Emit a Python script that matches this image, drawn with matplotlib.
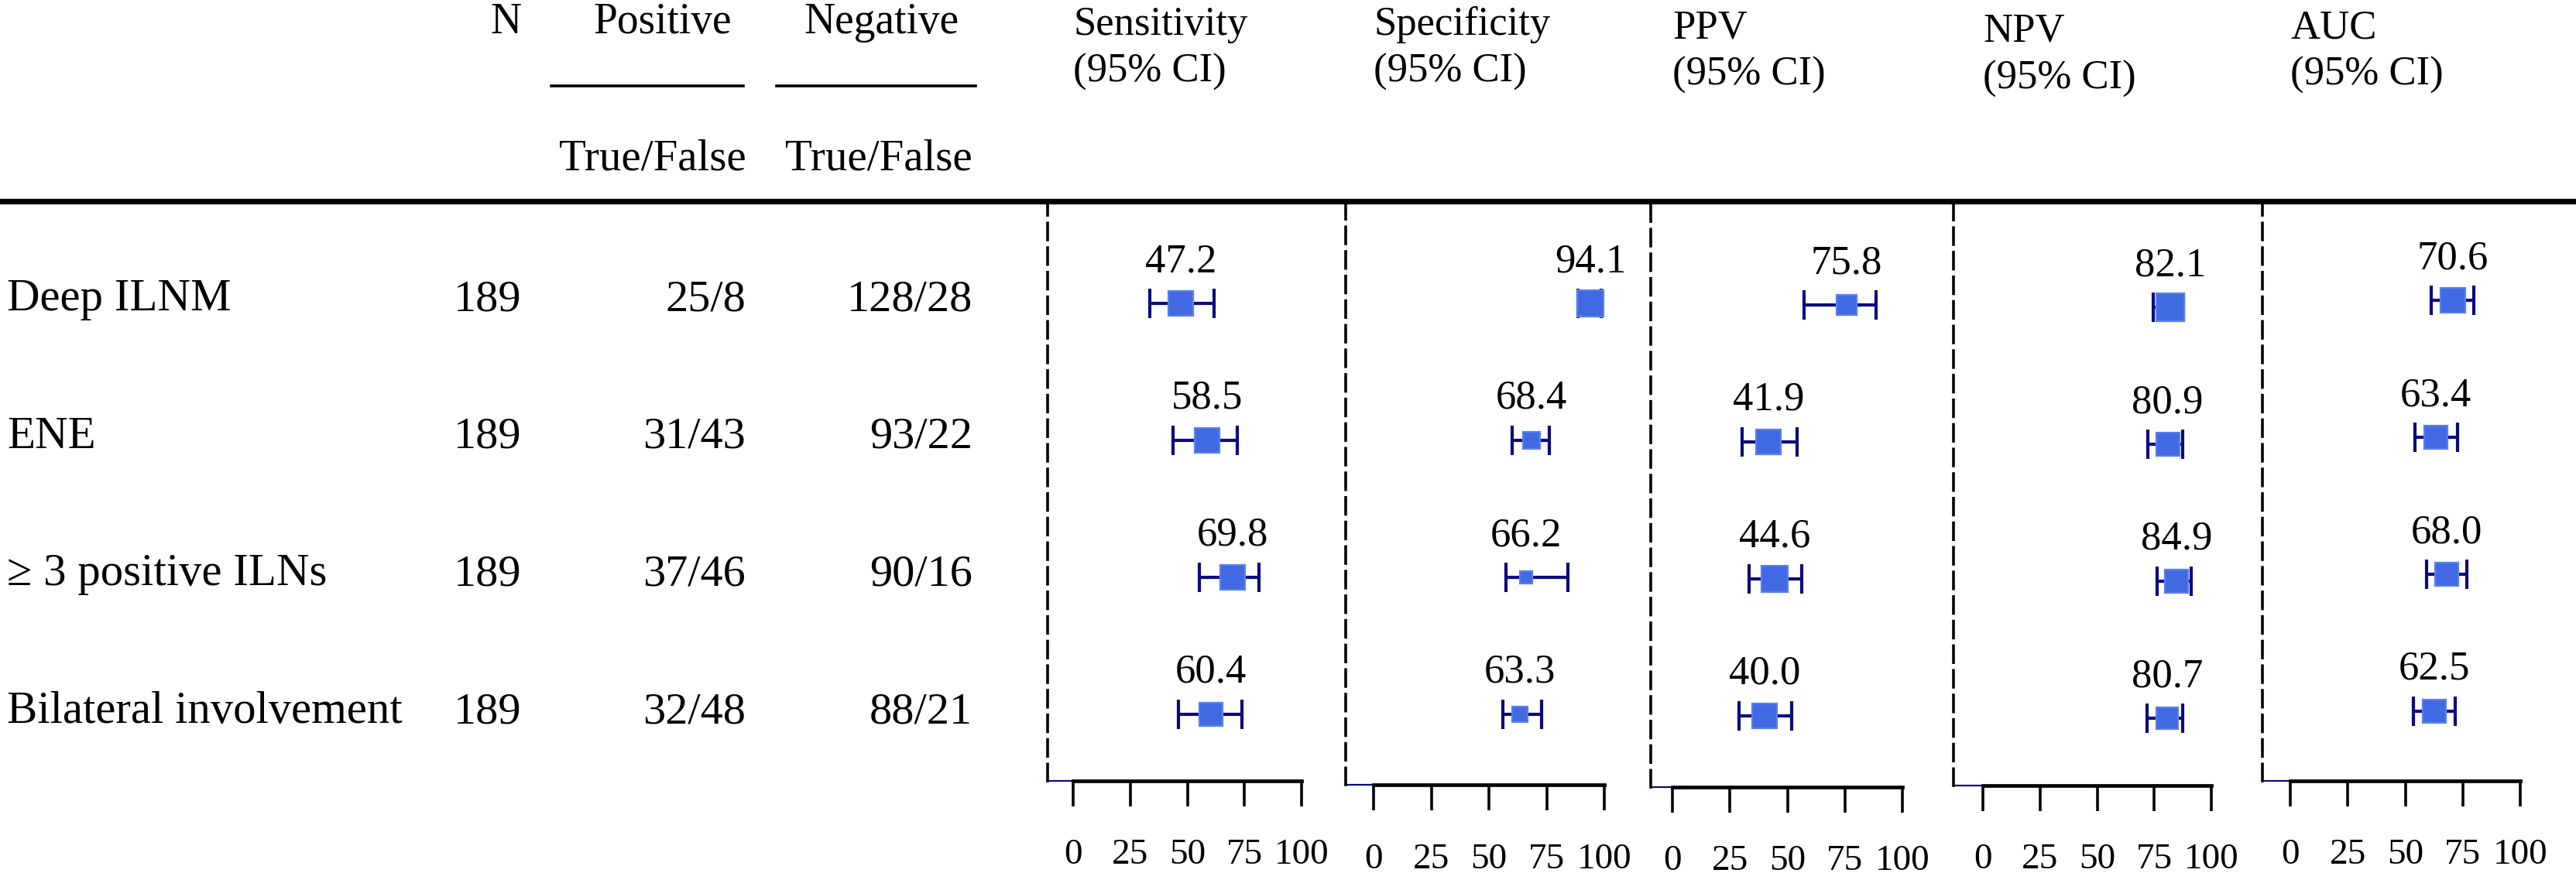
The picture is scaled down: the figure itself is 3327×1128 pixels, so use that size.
import matplotlib.pyplot as plt
from matplotlib.lines import Line2D

plt.rcParams['font.family'] = ['Liberation Serif', 'DejaVu Serif']

# table part
rows = ["Deep ILNM", "ENE", "\u2265 3 positive ILNs", "Bilateral involvement"]
n_total = [189, 189, 189, 189]
pos_tf = ["25/8", "31/43", "37/46", "32/48"]
neg_tf = ["128/28", "93/22", "90/16", "88/21"]

# forest panels (estimate, lower, upper)
metrics = ["Sensitivity", "Specificity", "PPV", "NPV", "AUC"]
sens = [47.2, 58.5, 69.8, 60.4]
sens_lo = [33.4, 43.8, 55.4, 46.1]
sens_hi = [61.6, 71.8, 81.3, 73.8]
spec = [94.1, 68.4, 66.2, 63.3]
spec_lo = [88.5, 60.0, 57.3, 55.9]
spec_hi = [98.5, 76.1, 84.2, 72.9]
ppv = [75.8, 41.9, 44.6, 40.0]
ppv_lo = [57.3, 30.4, 33.5, 29.0]
ppv_hi = [88.7, 54.2, 56.3, 52.0]
npv = [82.1, 80.9, 84.9, 80.7]
npv_lo = [74.7, 72.1, 76.2, 71.8]
npv_hi = [87.9, 87.5, 91.3, 87.5]
auc = [70.6, 63.4, 68.0, 62.5]
auc_lo = [61.2, 54.3, 59.4, 53.6]
auc_hi = [79.9, 72.8, 76.8, 71.8]
ticks = [0, 25, 50, 75, 100]

est = [sens, spec, ppv, npv, auc]
lows = [sens_lo, spec_lo, ppv_lo, npv_lo, auc_lo]
highs = [sens_hi, spec_hi, ppv_hi, npv_hi, auc_hi]

# square sizes (px) per panel
box_px = [[32, 32, 33, 31],
          [34, 22, 17, 21],
          [26, 32, 34, 32],
          [36, 31, 31, 29],
          [32, 31, 31, 31]]

# layout in pixels
W, H, DPI = 3327, 1128, 200
dash_x = [1353, 1738, 2132, 2523, 2922]
zero_x = [1386, 1774, 2160, 2561, 2958]
full_x = [1681, 2072, 2457, 2856, 3255]
axis_y = [1009, 1014, 1017, 1015, 1009]
row0_y = [392, 392, 394, 397, 388]
head_y = [45, 45, 49, 54, 49]
row_step = 177
top_line = 260

navy = '#0b0b7e'
royal = '#4169e1'


def fx(px):
    return px / W


def fy(py):
    return 1 - py / H


fig = plt.figure(figsize=(W / DPI, H / DPI), dpi=DPI)

# header of the table
fig.text(fx(673), fy(43), 'N', ha='right', va='baseline', fontsize=20)
fig.text(fx(856), fy(43), 'Positive', ha='center', va='baseline', fontsize=20)
fig.text(fx(1138), fy(43), 'Negative', ha='center', va='baseline', fontsize=20)
fig.add_artist(Line2D([fx(712), fx(960)], [fy(111)] * 2, color='black', lw=1.3))
fig.add_artist(Line2D([fx(1003), fx(1260)], [fy(111)] * 2, color='black', lw=1.3))
fig.text(fx(964), fy(219), 'True/False', ha='right', va='baseline', fontsize=20.5)
fig.text(fx(1256), fy(219), 'True/False', ha='right', va='baseline', fontsize=20.5)
fig.add_artist(Line2D([0, 1], [fy(top_line)] * 2, color='black', lw=2.6))

for i, name in enumerate(rows):
    yb = fy(401 + i * 177.7)
    fig.text(fx(9), yb, name, ha='left', va='baseline', fontsize=21.2)
    fig.text(fx(673), yb, str(n_total[i]), ha='right', va='baseline', fontsize=21)
    fig.text(fx(963), yb, pos_tf[i], ha='right', va='baseline', fontsize=21)
    fig.text(fx(1256), yb, neg_tf[i], ha='right', va='baseline', fontsize=21)

# forest panels
for p, name in enumerate(metrics):
    unit = (full_x[p] - zero_x[p]) / 100
    xmin = (dash_x[p] - zero_x[p]) / unit
    ax = fig.add_axes([fx(dash_x[p]), fy(axis_y[p]),
                       fx(full_x[p]) - fx(dash_x[p]), fy(top_line) - fy(axis_y[p])])
    ax.patch.set_alpha(0)
    ytop = (top_line - row0_y[p]) / row_step
    ybot = (axis_y[p] - row0_y[p]) / row_step
    ax.set_xlim(xmin, 100)
    ax.set_ylim(ybot, ytop)

    vals, lo, hi = est[p], lows[p], highs[p]
    for k in range(len(vals)):
        ax.errorbar(vals[k], k, xerr=[[vals[k] - lo[k]], [hi[k] - vals[k]]],
                    fmt='none', ecolor=navy, elinewidth=1.5, capsize=6.9,
                    capthick=1.5, zorder=2)
        ax.plot(vals[k], k, marker='s', ms=box_px[p][k] / 2.78, mfc=royal,
                mec='#5a80ee', mew=0.8, zorder=3)
        ax.text(vals[k], k - 41 / row_step, f'{vals[k]:.1f}', ha='center',
                va='baseline', fontsize=19)

    for s in ['top', 'right']:
        ax.spines[s].set_visible(False)
    ax.spines['left'].set_linestyle((0, (6, 2.8)))
    ax.spines['left'].set_linewidth(1.3)
    ax.spines['bottom'].set_bounds(0, 100)
    ax.spines['bottom'].set_linewidth(1.7)
    ax.plot([xmin, 0], [ybot, ybot], color=navy, lw=0.8, clip_on=False, zorder=1)
    ax.set_yticks([])
    ax.set_xticks(ticks)
    ax.set_xticklabels([str(t) for t in ticks])
    ax.tick_params(axis='x', length=12, width=1.3, pad=15, labelsize=17,
                   direction='out')

    fig.text(fx(zero_x[p]), fy(head_y[p]), name, ha='left', va='baseline', fontsize=19)
    fig.text(fx(zero_x[p]), fy(head_y[p] + 61), '(95% CI)', ha='left',
             va='baseline', fontsize=19)

fig.savefig('out.png', dpi=DPI)
